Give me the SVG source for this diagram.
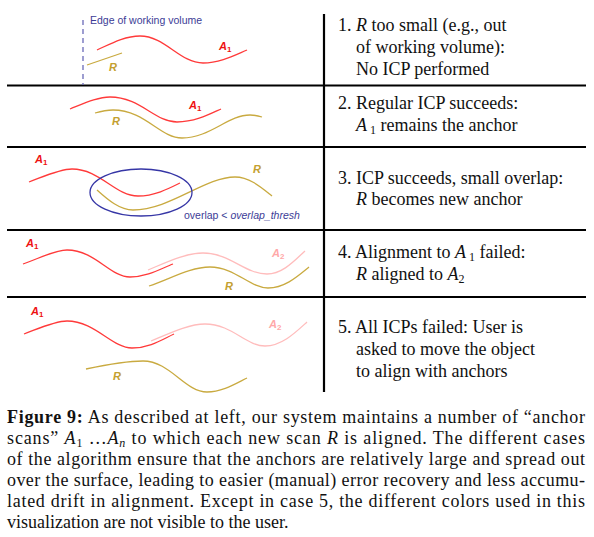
<svg xmlns="http://www.w3.org/2000/svg" width="594" height="537" viewBox="0 0 594 537">
<style>
.bg{fill:#ffffff}
.rule{stroke:#000;stroke-width:2.2;fill:none}
.red{stroke:#ff3a3a;stroke-width:1.3;fill:none}
.pink{stroke:#ffbcbc;stroke-width:1.3;fill:none}
.olive{stroke:#c9aa40;stroke-width:1.3;fill:none}
.blue{stroke:#3636a6;stroke-width:1.3;fill:none}
.dash{stroke:#6a6ab8;stroke-width:1.3;stroke-dasharray:5 4;fill:none}
.lbl{font-family:"Liberation Sans",Arial,sans-serif;font-size:11px;font-weight:bold;font-style:italic}
.sub{font-size:8px;font-style:normal}
.lr{fill:#ee1111}
.lp{fill:#ffa8a8}
.lo{fill:#c4a030}
.note{font-family:"Liberation Sans",Arial,sans-serif;font-size:10.5px;fill:#3c3c96}
.t{font-family:"Liberation Serif","Times New Roman",serif;font-size:18px;fill:#111}
.i{font-style:italic}
.s{font-size:12px}
.cap{font-family:"Liberation Serif","Times New Roman",serif;font-size:18px;fill:#111}
</style>
<rect class="bg" x="0" y="0" width="594" height="537"/>
<g id="table">
<line class="rule" x1="324" y1="14" x2="324" y2="392"/>
<line class="rule" x1="7" y1="85.5" x2="586" y2="85.5"/>
<line class="rule" x1="7" y1="147" x2="586" y2="147"/>
<line class="rule" x1="7" y1="230" x2="586" y2="230"/>
<line class="rule" x1="7" y1="297" x2="586" y2="297"/>
</g>
<g id="case1">
<line class="dash" x1="83" y1="20" x2="83" y2="85"/>
<text class="note" x="90" y="24">Edge of working volume</text>
<path class="red" d="M97,50 C112,43 125,36 140,36 C165,36 180,63 203,63 C220,63 235,55 247,50"/>
<path class="olive" d="M87,65 L122,53"/>
<text class="lbl lr" x="219" y="50">A<tspan class="sub" dy="2">1</tspan></text>
<text class="lbl lo" x="109" y="71">R</text>
<text class="t" x="338" y="31">1. <tspan class="i">R</tspan> too small (e.g., out</text>
<text class="t" x="356" y="53">of working volume):</text>
<text class="t" x="356" y="75">No ICP performed</text>
</g>
<g id="case2">
<path class="red" d="M70,109 C85,103 98,97 110,97 C140,97 155,122 177,122 C195,122 210,114 221,109"/>
<path class="olive" d="M95,113 C102,111 108,110 113,110 C145,110 160,138 182,138 C210,138 228,115 250,115 C255,115 259,116 262,117"/>
<text class="lbl lr" x="189" y="109">A<tspan class="sub" dy="2">1</tspan></text>
<text class="lbl lo" x="112" y="125">R</text>
<text class="t" x="338" y="109">2. Regular ICP succeeds:</text>
<text class="t" x="356" y="131"><tspan class="i">A</tspan><tspan class="s" dy="3"> 1</tspan><tspan dy="-3"> remains the anchor</tspan></text>
</g>
<g id="case3">
<path class="red" d="M29,182 C45,176 60,169 72,169 C100,169 115,196 138,196 C155,196 170,188 180,183"/>
<path class="olive" d="M97,190 C108,200 120,210 133,210 C170,210 205,177 235,177 C250,177 262,188 272,196"/>
<ellipse class="blue" cx="141" cy="192.5" rx="51" ry="23.5"/>
<text class="lbl lr" x="35" y="163">A<tspan class="sub" dy="2">1</tspan></text>
<text class="lbl lo" x="253" y="173">R</text>
<text class="note" x="184" y="219">overlap &lt; <tspan font-style="italic">overlap_thresh</tspan></text>
<text class="t" x="338" y="184">3. ICP succeeds, small overlap:</text>
<text class="t" x="356" y="205"><tspan class="i">R</tspan> becomes new anchor</text>
</g>
<g id="case4">
<path class="red" d="M23,264 C40,258 55,250 67,250 C95,250 110,277 130,277 C148,277 162,268 173,264"/>
<path class="pink" d="M148,270 C165,263 185,253 203,253 C230,253 245,274 267,274 C283,274 295,260 305,251"/>
<path class="olive" d="M149,286 C170,279 190,267 210,267 C235,267 250,288 268,288 C285,288 298,276 309,267"/>
<text class="lbl lr" x="26" y="247">A<tspan class="sub" dy="2">1</tspan></text>
<text class="lbl lp" x="272" y="257">A<tspan class="sub" dy="2">2</tspan></text>
<text class="lbl lo" x="225" y="290">R</text>
<text class="t" x="338" y="258">4. Alignment to <tspan class="i">A</tspan><tspan class="s" dy="3"> 1</tspan><tspan dy="-3"> failed:</tspan></text>
<text class="t" x="356" y="280"><tspan class="i">R</tspan> aligned to <tspan class="i">A</tspan><tspan class="s" dy="3">2</tspan></text>
</g>
<g id="case5">
<path class="red" d="M24,334 C40,328 55,321 67,321 C95,321 112,348 132,348 C150,348 163,339 174,334"/>
<path class="pink" d="M151,341 C168,334 188,324 205,324 C232,324 246,346 265,346 C282,346 296,332 307,322"/>
<path class="olive" d="M86,369 C105,365 125,361 143,361 C170,361 185,392 207,392 C222,392 235,384 247,378"/>
<text class="lbl lr" x="31" y="315">A<tspan class="sub" dy="2">1</tspan></text>
<text class="lbl lp" x="269" y="328">A<tspan class="sub" dy="2">2</tspan></text>
<text class="lbl lo" x="113" y="380">R</text>
<text class="t" x="338" y="333">5. All ICPs failed: User is</text>
<text class="t" x="356" y="355">asked to move the object</text>
<text class="t" x="356" y="377">to align with anchors</text>
</g>
<g id="caption">
<text class="cap" x="7" y="423" textLength="578" lengthAdjust="spacing"><tspan font-weight="bold">Figure 9:</tspan> As described at left, our system maintains a number of “anchor</text>
<text class="cap" x="7" y="444" textLength="578" lengthAdjust="spacing">scans” <tspan class="i">A</tspan><tspan class="s" dy="3">1</tspan><tspan dy="-3"> …</tspan><tspan class="i">A</tspan><tspan class="s i" dy="3">n</tspan><tspan dy="-3"> to which each new scan </tspan><tspan class="i">R</tspan> is aligned.  The different cases</text>
<text class="cap" x="7" y="465" textLength="578" lengthAdjust="spacing">of the algorithm ensure that the anchors are relatively large and spread out</text>
<text class="cap" x="7" y="486" textLength="578" lengthAdjust="spacing">over the surface, leading to easier (manual) error recovery and less accumu-</text>
<text class="cap" x="7" y="507" textLength="578" lengthAdjust="spacing">lated drift in alignment.  Except in case 5, the different colors used in this</text>
<text class="cap" x="7" y="528">visualization are not visible to the user.</text>
</g>
</svg>
